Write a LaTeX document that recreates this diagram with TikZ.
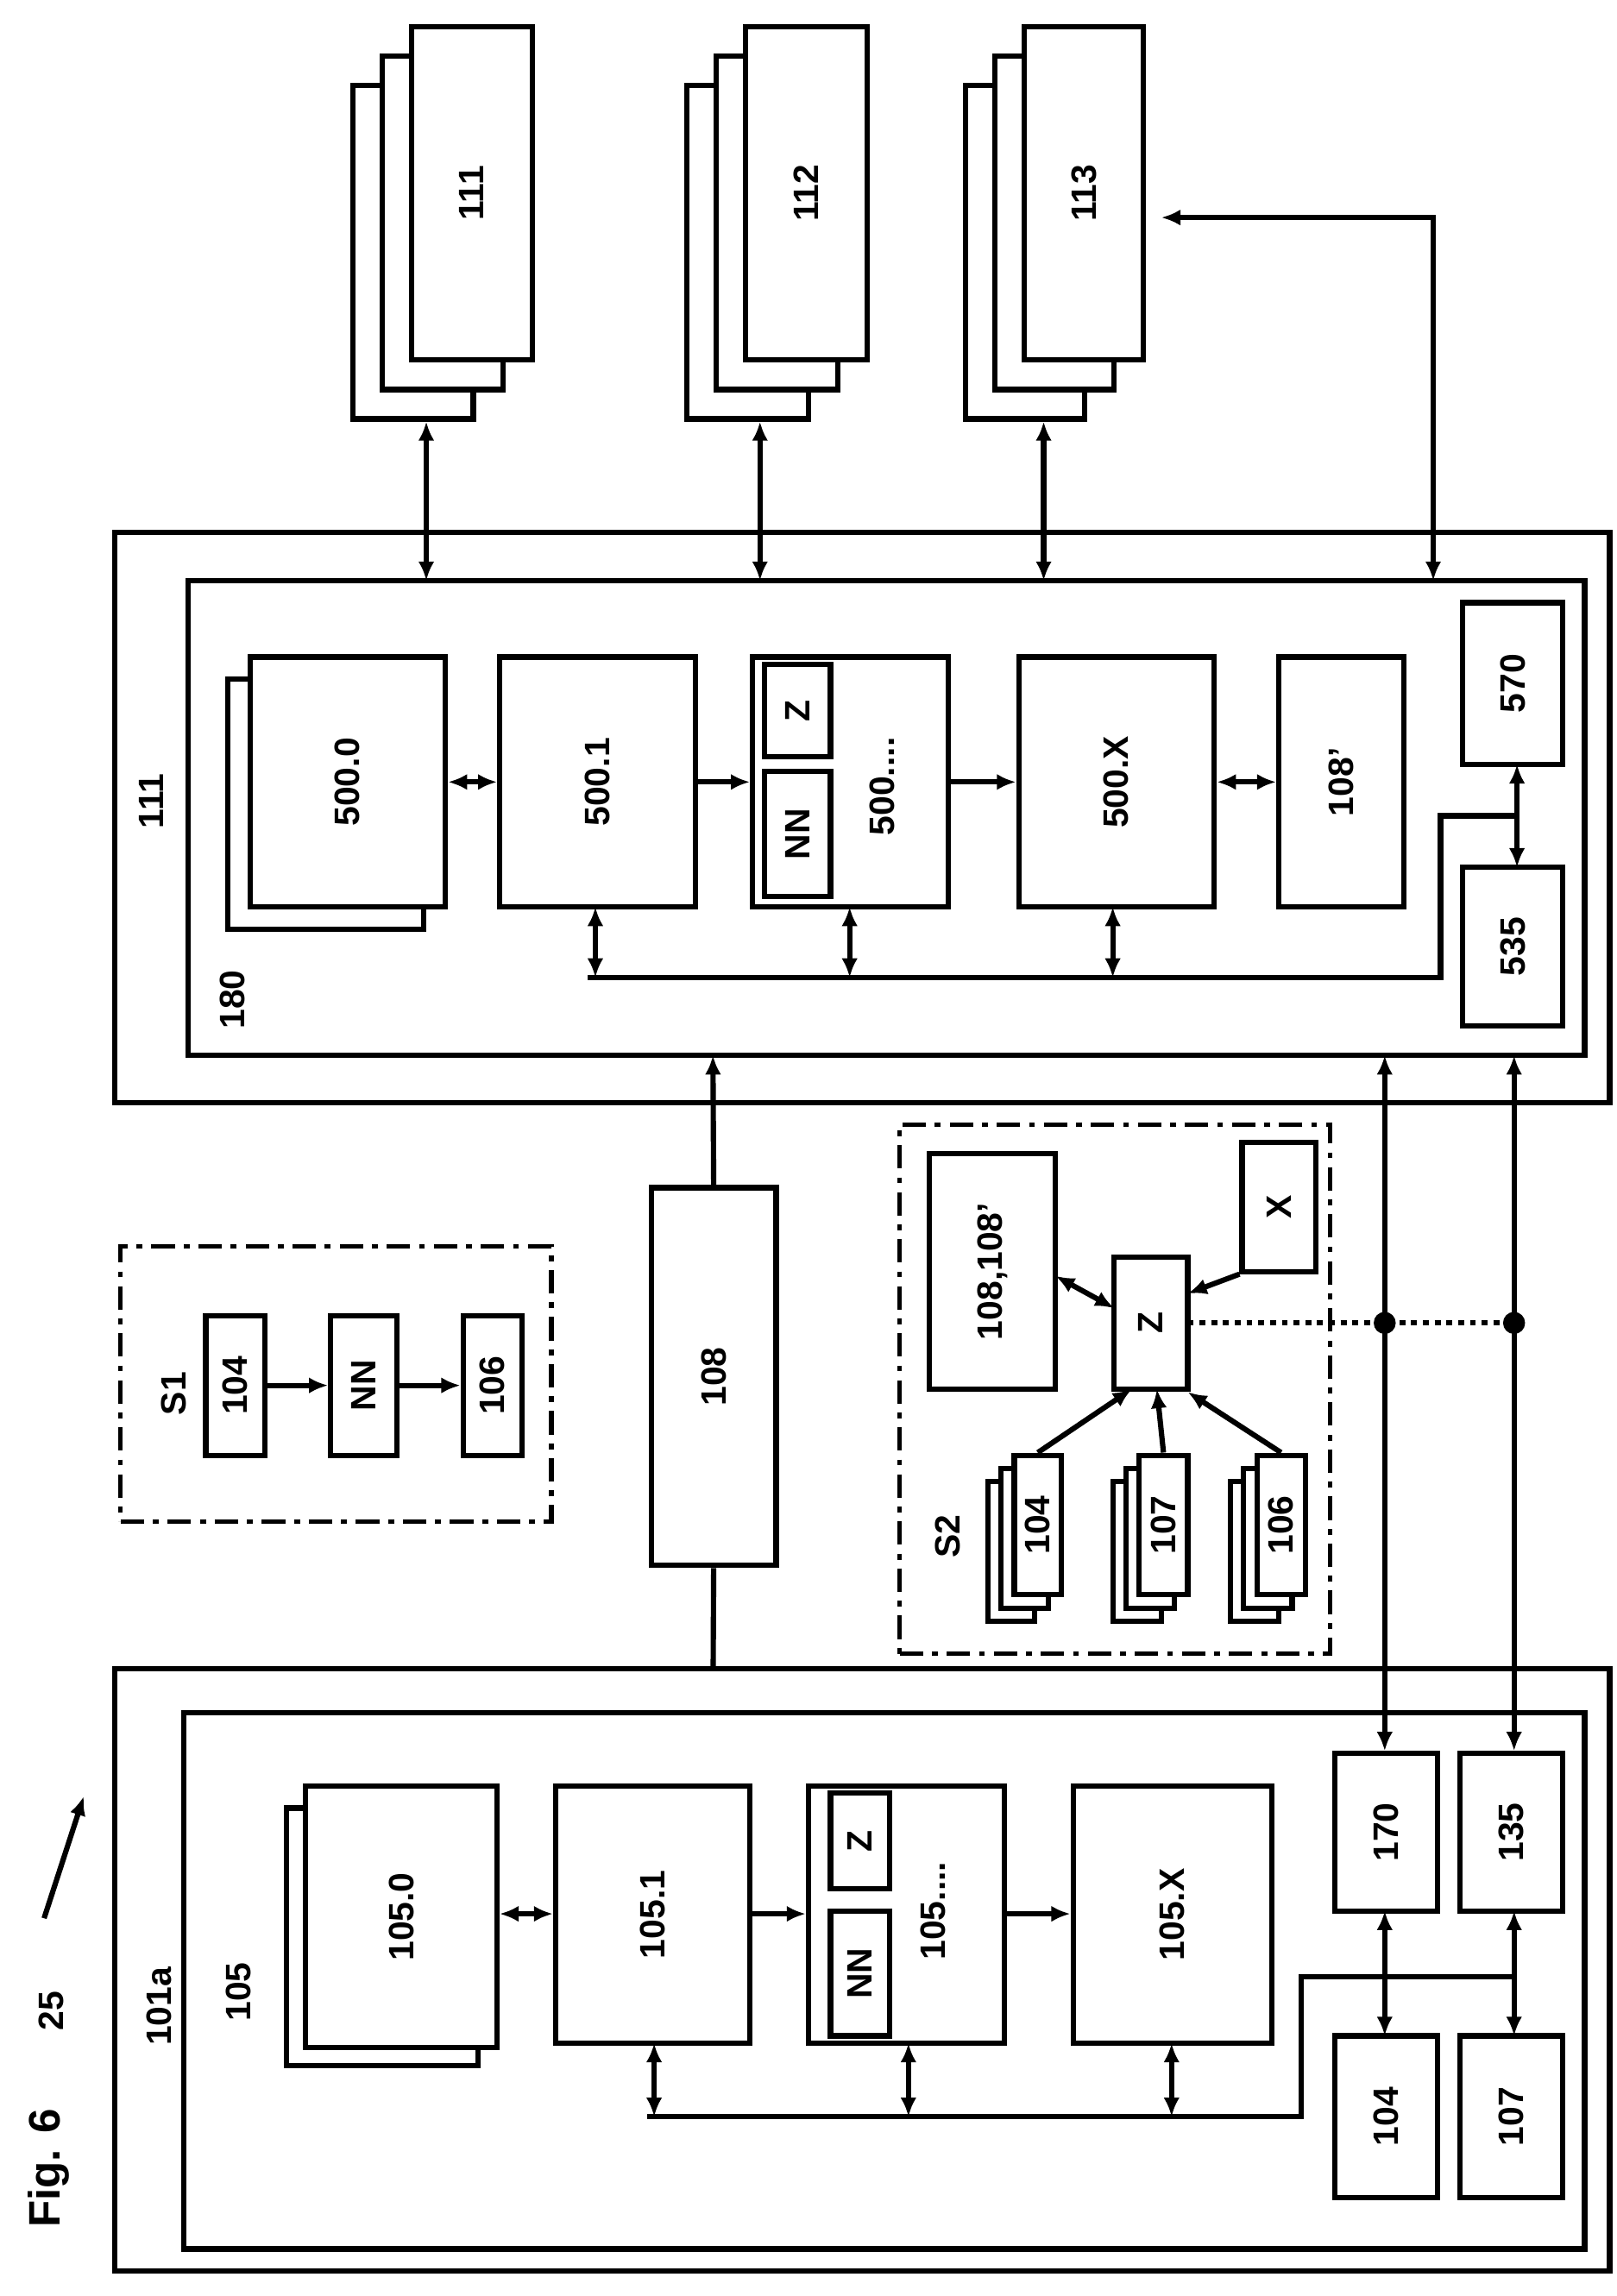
\documentclass[tikz,border=0pt]{standalone}
\usepackage{fontspec}
\setmainfont{Liberation Sans}
\usetikzlibrary{arrows.meta,fit}
\begin{document}
\begin{tikzpicture}[x=1pt,y=-1pt,
 box/.style={draw,line width=3.6pt,fill=white,inner sep=0pt},
 lab/.style={rotate=90,font=\bfseries\fontsize{24}{24}\selectfont},
 ln/.style={line width=3.6pt},
 ar/.style={line width=3.6pt,-{Latex[length=13pt,width=11pt]}},
 dar/.style={line width=3.6pt,{Latex[length=13pt,width=11pt]}-{Latex[length=13pt,width=11pt]}},
 dd/.style={line width=3.2pt,dash pattern=on 16pt off 6pt on 4pt off 6pt}]
\useasboundingbox (0,0) rectangle (1100,1562);
\newcommand\bx[6]{\node[box,fit={(#2,#3)(#4,#5)}] (#1) {}; \node[lab] (#1t) at (#1) {#6};}
\newcommand\stk[7]{%
 \node[box,fit={(#2-2*#6,#3+2*#6)(#4-2*#6,#5+2*#6)}] (#1b2) {};
 \node[box,fit={(#2-#6,#3+#6)(#4-#6,#5+#6)}] (#1b1) {};
 \bx{#1}{#2}{#3}{#4}{#5}{#7}}
% top stacks
\stk{s111}{280}{18}{362}{245}{20}{111}
\stk{s112}{507}{18}{590}{245}{20}{112}
\stk{s113}{697}{18}{778}{245}{20}{113}
% top block
\node[box,fit={(78,362)(1095,750)}] (o111) {};
\node[box,fit={(128,395)(1078,718)}] (i180) {};
\node[lab] (l111) at (103,545) {111};
\node[lab] (l180) at (158,680) {180};
\node[box,fit={(155,462)(288,632)}] (b5000b) {};
\bx{b5000}{170}{447}{303}{617}{500.0}
\bx{b5001}{340}{447}{473}{617}{500.1}
\node[box,fit={(512,447)(645,617)}] (b500d) {};
\node[lab] (b500dt) at (600,535) {500....};
\bx{bz1}{520}{452}{565}{515}{Z}
\bx{bnn1}{520}{525}{565}{610}{NN}
\bx{b500x}{693}{447}{826}{617}{500.X}
\bx{b108p}{870}{447}{955}{617}{108'}
\bx{b570}{995}{410}{1063}{520}{570}
\bx{b535}{995}{590}{1063}{698}{535}
\draw[dar] (b5000.east|-0,532) -- (b5001.west|-0,532);
\draw[ar] (b5001.east|-0,532) -- (b500d.west|-0,532);
\draw[ar] (b500d.east|-0,532) -- (b500x.west|-0,532);
\draw[dar] (b500x.east|-0,532) -- (b108p.west|-0,532);
\coordinate (bus1a) at (400,665); \coordinate (bus1b) at (980,665);
\draw[ln] (bus1a) -- (bus1b) -- (980,555) -- (1032,555);
\draw[dar] (405,665) -- (405,617);
\draw[dar] (578,665) -- (578,617);
\draw[dar] (757,665) -- (757,617);
\draw[dar] (1032,520) -- (1032,590);
\draw[dar] (s111b2.south-|290,0) -- (290,395);
\draw[dar] (s112b2.south-|517,0) -- (517,395);
\draw[dar] (s113b2.south-|710,0) -- (710,395);
\draw[dar] (790,148) -- (975,148) -- (975,395);
% S1
\node[draw,dd,fit={(82,848)(375,1035)},inner sep=0] (S1) {};
\node[lab] (S1t) at (118,948) {S1};
\bx{s1a}{140}{895}{180}{990}{104}
\bx{s1b}{225}{895}{270}{990}{NN}
\bx{s1c}{315}{895}{355}{990}{106}
\draw[ar] (s1a) -- (s1b); \draw[ar] (s1b) -- (s1c);
% 108
\bx{b108}{443}{808}{528}{1065}{108}
\draw[ar] (b108.north) -- (485,718);
\draw[ln] (b108.south) -- (485,1165);
% S2
\node[draw,dd,fit={(612,765)(905,1125)},inner sep=0] (S2) {};
\node[lab] (S2t) at (645,1045) {S2};
\bx{b10818}{632}{785}{718}{945}{108,108'}
\bx{bZ}{758}{855}{808}{945}{Z}
\bx{bX}{845}{777}{895}{865}{X}
\stk{s104}{690}{990}{722}{1085}{9}{104}
\stk{s107}{775}{990}{808}{1085}{9}{107}
\stk{s106}{855}{990}{888}{1085}{9}{106}
\draw[ar] (s104.north) -- (770,945);
\draw[ar] (s107.north) -- (787,945);
\draw[ar] (s106.north) -- (808,947);
\draw[dar] (718,868) -- (758,890);
\draw[ar] (bX.south west) -- (808,880);
\coordinate (d1) at (942,900); \coordinate (d2) at (1030,900);
\draw[line width=3.6pt,dash pattern=on 4pt off 4pt] (808,900) -- (d2);
\fill (d1) circle (7.5); \fill (d2) circle (7.5);
% bottom block
\node[box,fit={(78,1135)(1095,1545)}] (o101) {};
\node[box,fit={(125,1165)(1078,1530)}] (i105) {};
\node[lab] (l101) at (108,1365) {101a};
\node[lab] (l105) at (162,1355) {105};
\node[box,fit={(195,1230)(325,1405)}] (b1050b) {};
\bx{b1050}{208}{1215}{338}{1393}{105.0}
\bx{b1051}{378}{1215}{510}{1390}{105.1}
\node[box,fit={(550,1215)(683,1390)}] (b105d) {};
\node[lab] (b105dt) at (635,1300) {105....};
\bx{bz2}{565}{1220}{605}{1285}{Z}
\bx{bnn2}{565}{1300}{605}{1385}{NN}
\bx{b105x}{730}{1215}{865}{1390}{105.X}
\bx{b170}{908}{1193}{978}{1300}{170}
\bx{b135}{993}{1193}{1063}{1300}{135}
\bx{b104}{908}{1385}{978}{1495}{104}
\bx{b107}{993}{1385}{1063}{1495}{107}
\draw[dar] (b1050.east|-0,1302) -- (b1051.west|-0,1302);
\draw[ar] (b1051.east|-0,1302) -- (b105d.west|-0,1302);
\draw[ar] (b105d.east|-0,1302) -- (b105x.west|-0,1302);
\draw[ln] (440,1440) -- (885,1440) -- (885,1345) -- (1032,1345);
\draw[dar] (445,1440) -- (445,1390);
\draw[dar] (618,1440) -- (618,1390);
\draw[dar] (797,1440) -- (797,1390);
\draw[dar] (942,1300) -- (942,1385);
\draw[dar] (1030,1300) -- (1030,1385);
\draw[dar] (942,718) -- (b170.north-|942,0);
\draw[dar] (1030,718) -- (b135.north-|1030,0);
% figure label
\node[lab,font=\bfseries\fontsize{30}{30}\selectfont] (fig) at (33,1475) {Fig. 6};
\node[lab] (n25) at (35,1368) {25};
\draw[ar] (30,1305) -- (57,1222);
\end{tikzpicture}
\end{document}
